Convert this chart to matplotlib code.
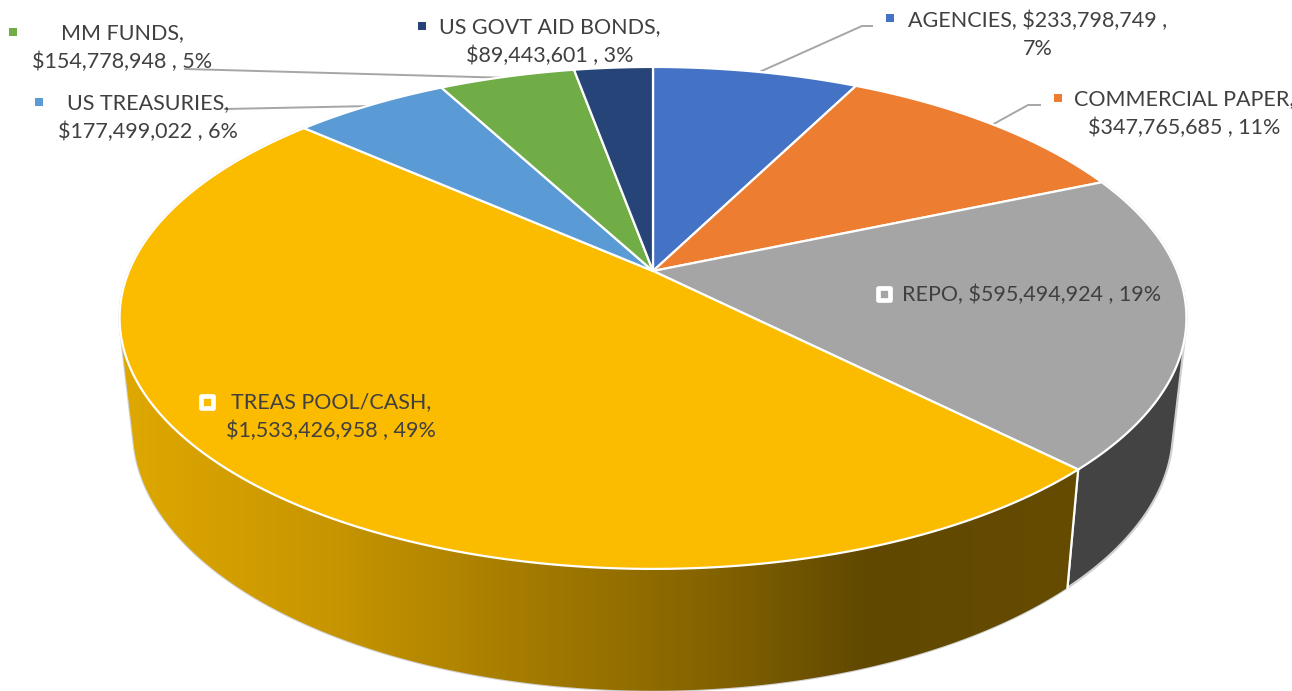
import matplotlib
matplotlib.use('Agg')
import matplotlib.pyplot as plt
import numpy as np
from matplotlib.colors import LinearSegmentedColormap
from matplotlib.patches import Polygon

categories = ['AGENCIES', 'COMMERCIAL PAPER', 'REPO', 'TREAS POOL/CASH',
              'US TREASURIES', 'MM FUNDS', 'US GOVT AID BONDS']
values = [233798749, 347765685, 595494924, 1533426958,
          177499022, 154778948, 89443601]
labels = ['AGENCIES, $233,798,749 ,\n7%',
          'COMMERCIAL PAPER,\n$347,765,685 , 11%',
          'REPO, $595,494,924 , 19%',
          'TREAS POOL/CASH,\n$1,533,426,958 , 49%',
          'US TREASURIES,\n$177,499,022 , 6%',
          'MM FUNDS,\n$154,778,948 , 5%',
          'US GOVT AID BONDS,\n$89,443,601 , 3%']
colors = ['#4472C4', '#ED7D31', '#A5A5A5', '#FBBC00', '#5B9BD5', '#70AD47', '#264478']

label_pos = [(1038, 35), (1184, 114), (1032, 295), (331, 417), (148, 118), (122, 48), (550, 42)]
marker_pos = [(890, 18), (1058, 98), (884, 294), (207, 402), (39, 102), (13, 32), (422, 26)]
leaders = [[(755, 74), (862, 26), (872, 26)],
           [(990, 126), (1028, 105), (1040, 105)],
           [(225, 109), (372, 106)],
           [(185, 69), (512, 78)]]

# perspective of the pie disc: A, B, k, y of the centre
top_disc = (524.0, 242.2, 0.187, 271.0)
bottom_disc = (510.8, 251.0, 0.187, 382.0)
cx = 653.0


def project(theta, disc):
    a, b, k, cy = disc
    x, y = np.sin(theta), np.cos(theta)
    w = 1 + k * y
    return np.column_stack((cx + a * x / w, cy - b * y / w))


def hull(pts):
    pts = sorted(map(tuple, pts))
    def half(seq):
        out = []
        for p in seq:
            while len(out) > 1 and ((out[-1][0] - out[-2][0]) * (p[1] - out[-2][1])
                                    - (out[-1][1] - out[-2][1]) * (p[0] - out[-2][0])) <= 0:
                out.pop()
            out.append(p)
        return out[:-1]
    return np.array(half(pts) + half(pts[::-1]))


fig = plt.figure(figsize=(12.92, 6.91), dpi=100)
ax = fig.add_axes([0, 0, 1, 1])

edges = np.concatenate(([0], np.cumsum(values))) / np.sum(values) * 2 * np.pi

# leader lines go under the pie
for line in leaders:
    xs, ys = zip(*line)
    ax.plot(xs, ys, color='#A6A6A6', lw=1.4, zorder=1, solid_joinstyle='miter')

# side walls, only the two front slices can be seen
idx_repo, idx_treas = 2, 3
t_repo = np.linspace(edges[idx_repo], edges[idx_repo + 1], 200)
t_treas = np.linspace(edges[idx_treas], edges[idx_treas + 1], 400)

wall_repo = hull(np.vstack((project(t_repo, top_disc), project(t_repo, bottom_disc))))
wall_treas = hull(np.vstack((project(t_treas, top_disc), project(t_treas, bottom_disc))))

ax.add_patch(Polygon(wall_repo, closed=True, facecolor='#434343', edgecolor='#D0D0D0', lw=1.6, zorder=2))
outline = Polygon(wall_treas, closed=True, facecolor='none', edgecolor='#D0D0D0', lw=1.6, zorder=2)
ax.add_patch(outline)

wall_cmap = LinearSegmentedColormap.from_list('wall', [
    (0.0, '#DFA800'), (0.22, '#C79500'), (0.45, '#A07800'),
    (0.62, '#836200'), (0.78, '#604800'), (1.0, '#664C00')])
grad = np.linspace(0, 1, 512).reshape(1, -1)
im = ax.imshow(grad, cmap=wall_cmap, extent=(120, 1080, 691, 0), aspect='auto', zorder=3)
im.set_clip_path(Polygon(wall_treas, closed=True, transform=ax.transData))

# white edge between the front walls
ax.plot(*zip(project(edges[3:4], top_disc)[0], project(edges[3:4], bottom_disc)[0]),
        color='white', lw=1.6, zorder=4)

# top of the pie
for i, col in enumerate(colors):
    t = np.linspace(edges[i], edges[i + 1], 300)
    arc = project(t, top_disc)
    poly = np.vstack(([(cx, top_disc[3])], arc))
    ax.fill(poly[:, 0], poly[:, 1], facecolor=col, edgecolor='white', lw=1.6, zorder=5)

# data labels with their key squares
plain = [0, 1, 4, 5, 6]
for i in plain:
    ax.scatter(*marker_pos[i], marker='s', s=33, color=colors[i], linewidths=0, zorder=6)
for i in (2, 3):
    ax.scatter(*marker_pos[i], marker='s', s=85, facecolor=colors[i], edgecolor='white', linewidths=3.4, zorder=6)

for lab, (x, y) in zip(labels, label_pos):
    ax.text(x, y, lab, ha='center', va='center', multialignment='center', fontsize=15.5,
            family='Lato', color='#404040', linespacing=1.52, zorder=7)

ax.set_xlim(0, 1292)
ax.set_ylim(691, 0)
ax.axis('off')

fig.savefig('out.png', dpi=100)
